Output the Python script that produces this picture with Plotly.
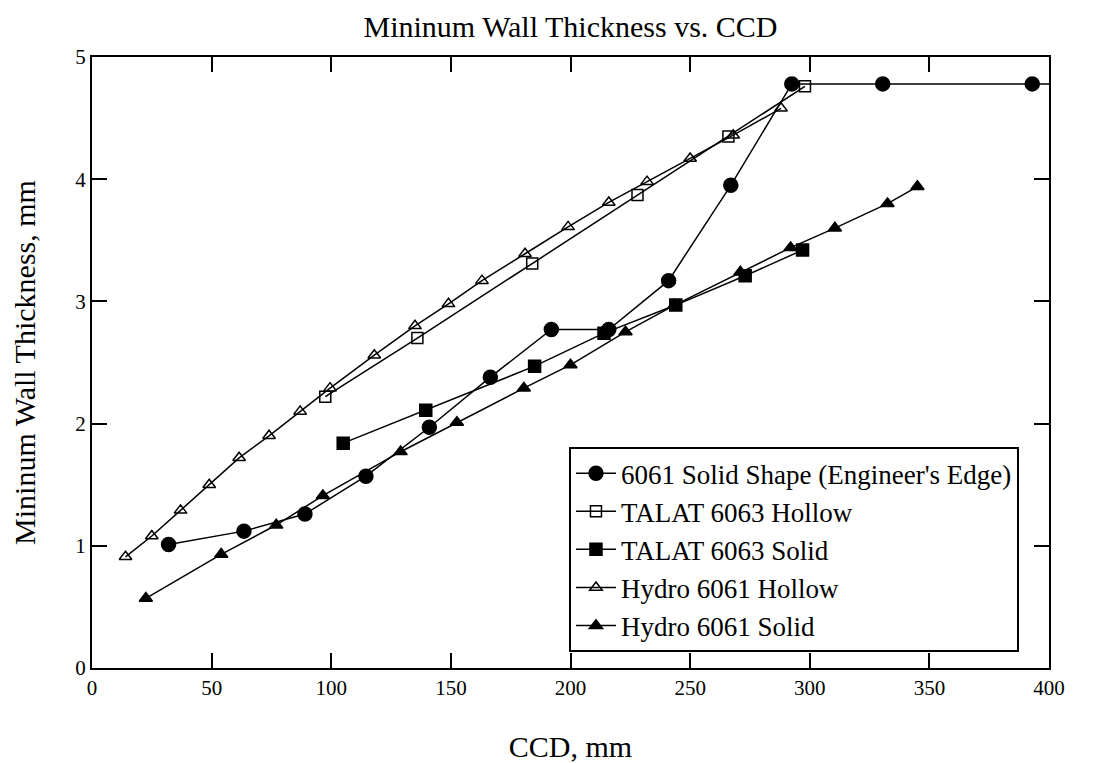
import plotly.graph_objects as go

# 6061 Solid Shape (Engineer's Edge)
ee_x = [32, 63.5, 89, 114.5, 141, 166.5, 192, 216, 241, 267, 292.5, 330.5, 393, 430]
ee_y = [1.01, 1.12, 1.26, 1.57, 1.97, 2.38, 2.77, 2.77, 3.17, 3.95, 4.78, 4.78, 4.78, 4.78]

# TALAT 6063 Hollow
th_x = [97.5, 136, 184, 228, 266, 298]
th_y = [2.22, 2.70, 3.31, 3.87, 4.35, 4.76]

# TALAT 6063 Solid
ts_x = [105, 139.5, 185, 214, 244, 273, 297]
ts_y = [1.84, 2.11, 2.47, 2.74, 2.97, 3.21, 3.42]

# Hydro 6061 Hollow
hh_x = [14, 25, 37, 49, 61.5, 74, 87, 99.5, 118, 135, 149, 163, 181, 199, 216, 232, 250, 268, 288]
hh_y = [0.91, 1.08, 1.29, 1.50, 1.72, 1.90, 2.10, 2.29, 2.56, 2.80, 2.98, 3.17, 3.39, 3.61, 3.81, 3.98, 4.17, 4.36, 4.58]

# Hydro 6061 Solid
hs_x = [22.5, 54, 77, 96.5, 129, 152.5, 180.5, 200, 223, 243.5, 271, 292, 310.5, 332.5, 345]
hs_y = [0.57, 0.93, 1.17, 1.41, 1.77, 2.01, 2.29, 2.48, 2.75, 2.97, 3.24, 3.44, 3.60, 3.80, 3.94]

x_ticks = [0, 50, 100, 150, 200, 250, 300, 350, 400]
y_ticks = [0, 1, 2, 3, 4, 5]

FONT = "Liberation Serif"

series = [
    ("6061 Solid Shape (Engineer's Edge)", ee_x, ee_y, "circle", 14),
    ("TALAT 6063 Hollow", th_x, th_y, "square-open", 11),
    ("TALAT 6063 Solid", ts_x, ts_y, "square", 12),
    ("Hydro 6061 Hollow", hh_x, hh_y, "triangle-up-open", 11),
    ("Hydro 6061 Solid", hs_x, hs_y, "triangle-up", 11.5),
]

fig = go.Figure()
for name, xs, ys, sym, size in series:
    fig.add_trace(go.Scatter(
        x=xs, y=ys, name=name, mode="lines+markers",
        line=dict(color="black", width=1.5),
        marker=dict(symbol=sym, size=size, color="black",
                    line=dict(color="black", width=1.5)),
    ))

axis_common = dict(
    showgrid=False, zeroline=False, showline=True, linecolor="black", linewidth=2,
    mirror="ticks", ticks="inside", ticklen=15, tickwidth=2, tickcolor="black",
    tickfont=dict(family=FONT, size=21, color="black"), automargin=False,
)

# page body has an 8px margin: figure is 1086x755 and margins are reduced by 8
fig.update_layout(
    width=1086, height=755,
    paper_bgcolor="white", plot_bgcolor="white",
    margin=dict(l=84, r=45, t=49, b=95, autoexpand=False),
    font=dict(family=FONT, color="black"),
    title=dict(text="Mininum Wall Thickness vs. CCD", xref="paper", x=0.5, xanchor="center",
               yref="container", y=0.975, yanchor="middle",
               font=dict(family=FONT, size=30, color="black"), automargin=False),
    xaxis=dict(range=[0, 400], tickvals=x_ticks, ticktext=[str(v) for v in x_ticks],
               title=dict(text="CCD, mm", font=dict(family=FONT, size=30), standoff=38),
               **axis_common),
    yaxis=dict(range=[0, 5], tickvals=y_ticks, ticktext=[str(v) for v in y_ticks],
               title=dict(text="Mininum Wall Thickness, mm", font=dict(family=FONT, size=30), standoff=34),
               **axis_common),
    legend=dict(x=0.4984, y=0.026, xanchor="left", yanchor="bottom",
                bgcolor="white", bordercolor="black", borderwidth=2,
                font=dict(family=FONT, size=27, color="black"),
                tracegroupgap=0, itemwidth=40),
)

fig.write_html("out.html")
